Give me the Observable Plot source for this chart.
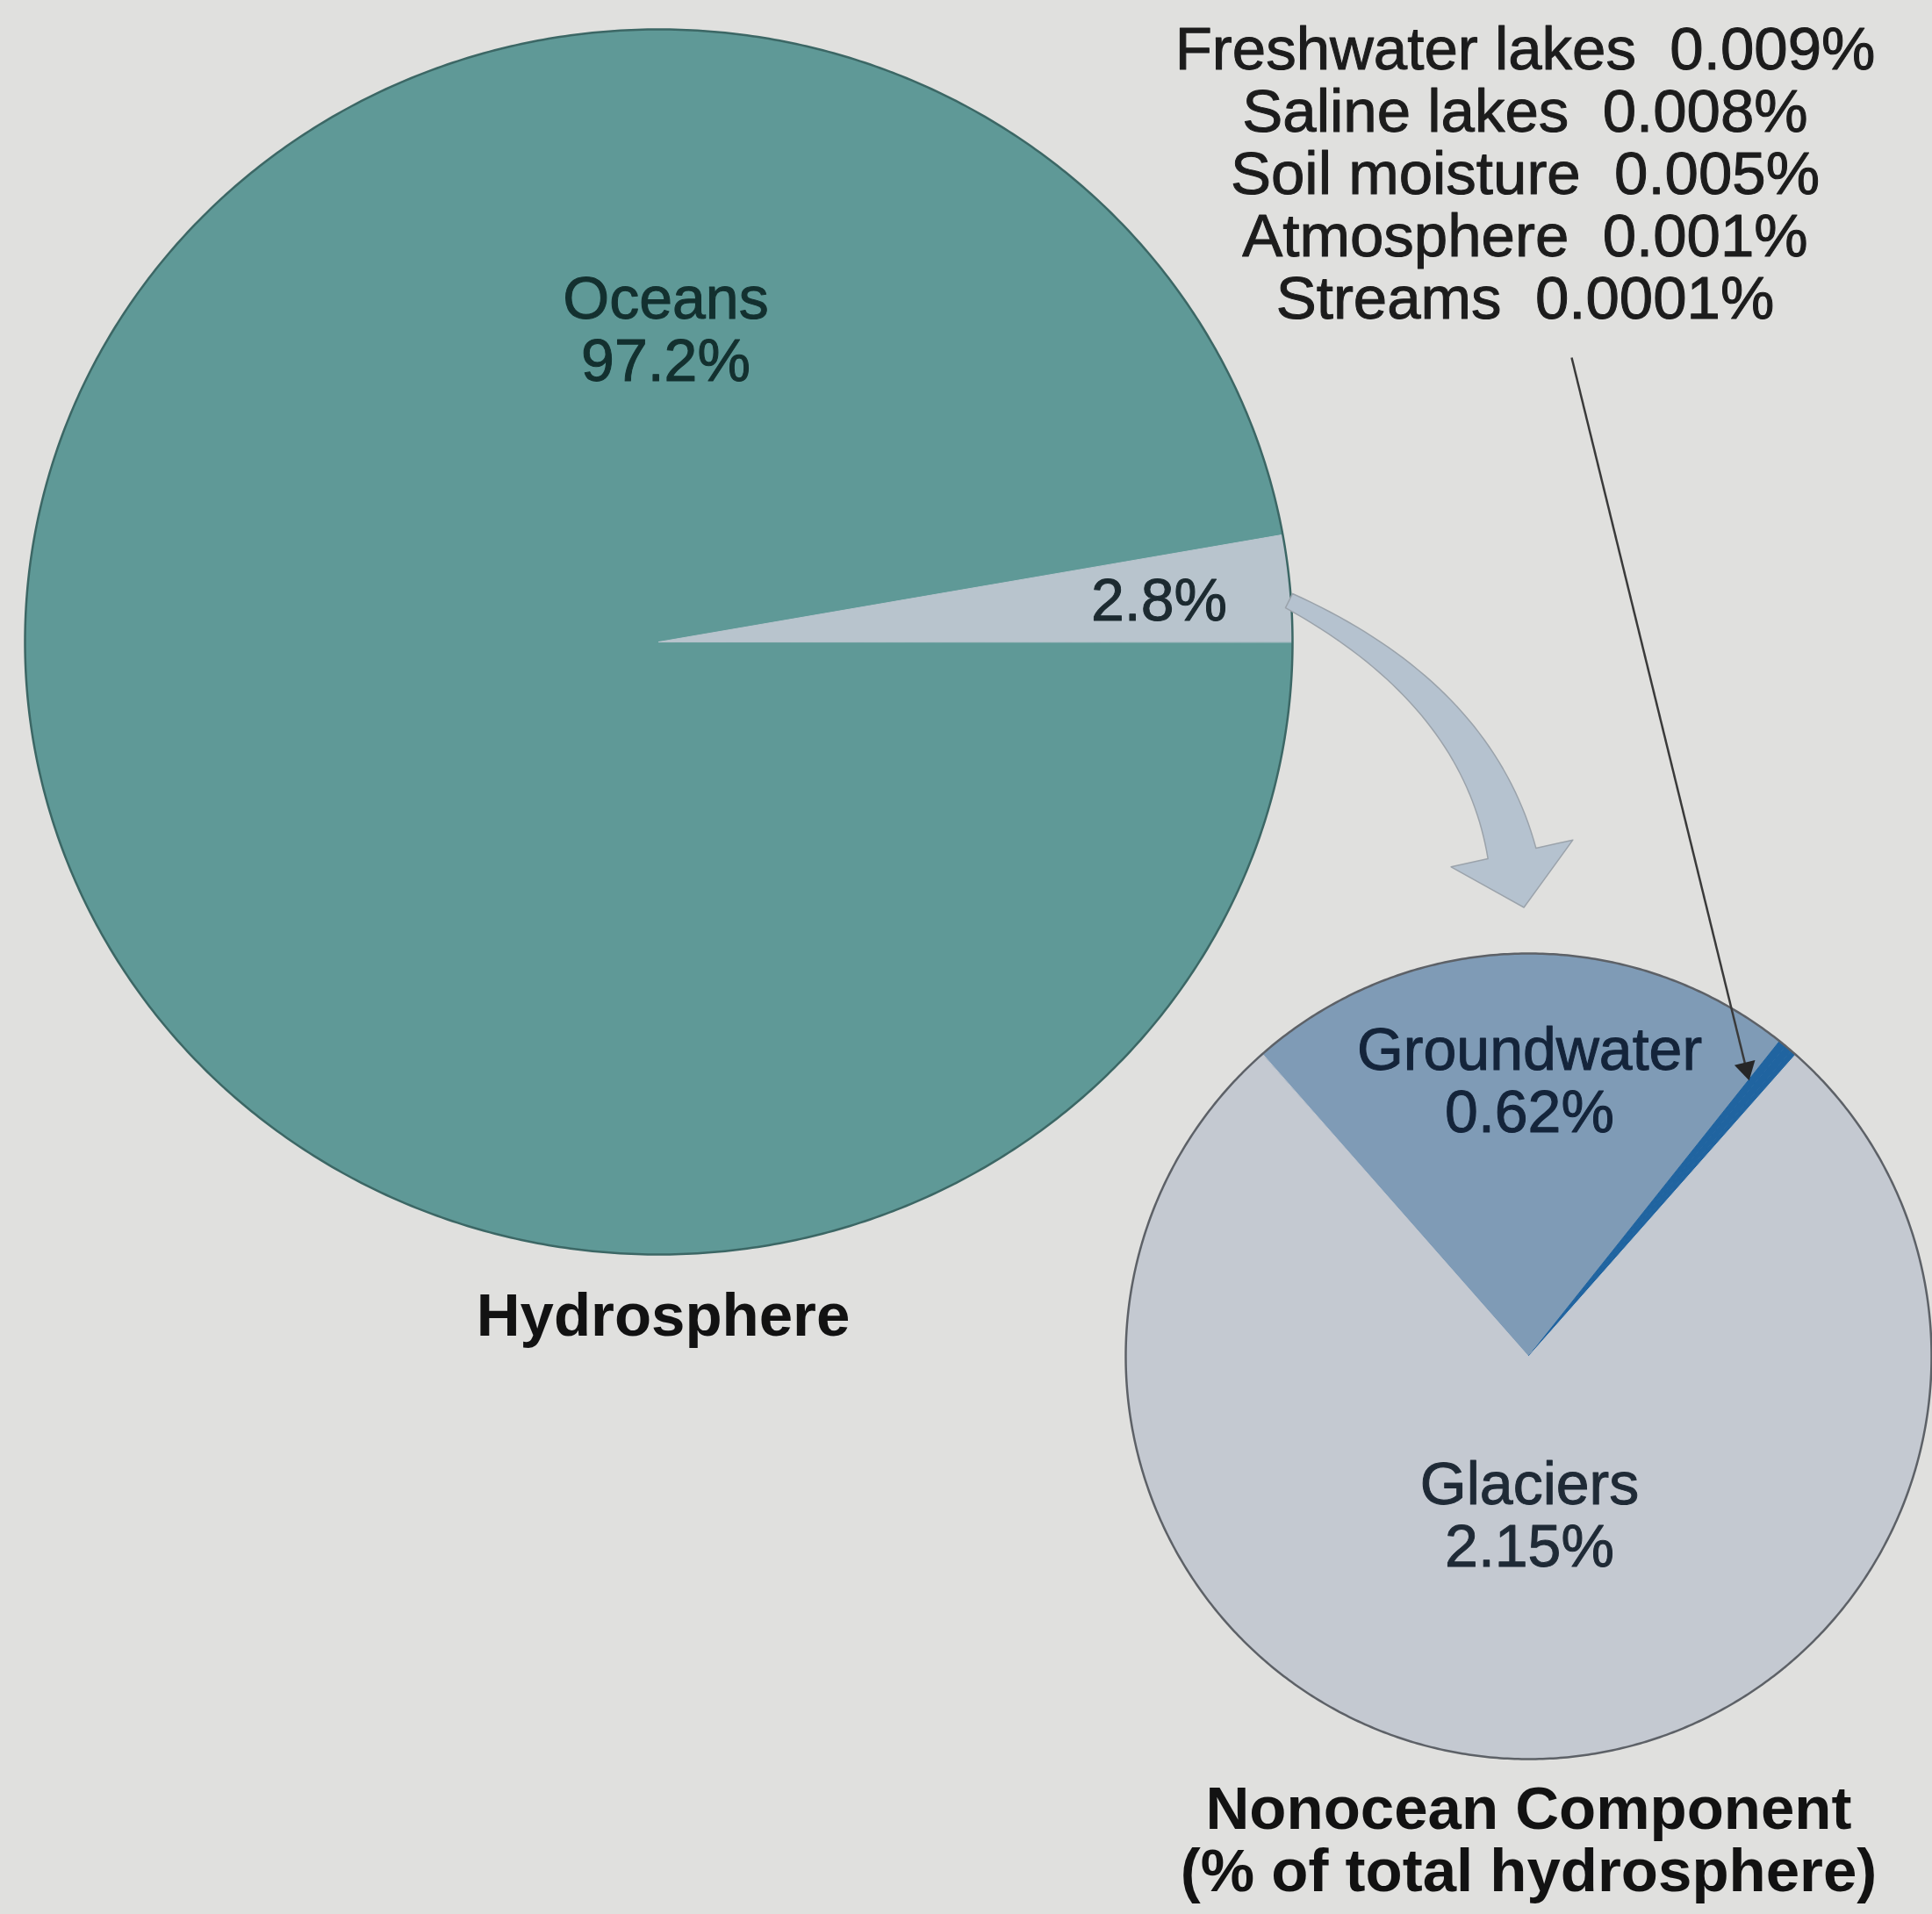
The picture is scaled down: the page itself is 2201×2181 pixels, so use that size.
<!DOCTYPE html>
<html>
<head>
<meta charset="utf-8">
<script src="https://cdn.jsdelivr.net/npm/d3@7"></script>
<script src="https://cdn.jsdelivr.net/npm/@observablehq/plot@0.6"></script>
<style>
  html, body { margin: 0; padding: 0; background: #e0e0de; }
  #chart svg { display: block; }
</style>
</head>
<body>
<div id="chart"></div>
<script>
// Distribution of Earth's water (% of the total hydrosphere)
const hydroNames = ["Oceans", "Nonocean"];
const hydroValues = [97.2, 2.8];

// Breakdown of the non-ocean part, still as % of the whole hydrosphere
const nonoceanNames = ["Groundwater", "Freshwater lakes", "Saline lakes", "Soil moisture", "Atmosphere", "Streams", "Glaciers"];
const nonoceanValues = [0.62, 0.009, 0.008, 0.005, 0.001, 0.0001, 2.15];

// Reservoirs too small to label inside the pie; listed in the callout
const minorNames = ["Freshwater lakes", "Saline lakes", "Soil moisture", "Atmosphere", "Streams"];

// Slice colours
const sliceColors = {
  "Oceans": "#5f9997",
  "Nonocean": "#b8c4cd",
  "Groundwater": "#7f9bb6",
  "Freshwater lakes": "#2064a0",
  "Saline lakes": "#2064a0",
  "Soil moisture": "#2064a0",
  "Atmosphere": "#2064a0",
  "Streams": "#2064a0",
  "Glaciers": "#c4c9d1"
};

// ---- layout (canvas units = pixels) ----
const W = 2201, H = 2181;
const bigPie = {cx: 750, cy: 731, rx: 722, ry: 698};
const smallPie = {cx: 1741, cy: 1545, rx: 459, ry: 459};
const smallStart = -41.4 * Math.PI / 180;   // groundwater straddles 12 o'clock
const FONT = "'Liberation Sans', Arial, Helvetica, sans-serif";

const val = (names, values) => n => values[names.indexOf(n)];
const hydro = val(hydroNames, hydroValues);
const nonocean = val(nonoceanNames, nonoceanValues);

// Polygon points for each pie slice (angles clockwise from 12 o'clock)
function slicePoints(names, values, g, start) {
  const arcs = d3.pie().sort(null).startAngle(start).endAngle(start + 2 * Math.PI)(values);
  const pts = [];
  arcs.forEach((a, i) => {
    const key = names[i];
    pts.push({key, x: g.cx, y: g.cy});
    const n = Math.max(2, Math.ceil((a.endAngle - a.startAngle) / (Math.PI / 360)));
    for (let k = 0; k <= n; k++) {
      const t = a.startAngle + (a.endAngle - a.startAngle) * k / n;
      pts.push({key, x: g.cx + g.rx * Math.sin(t), y: g.cy - g.ry * Math.cos(t)});
    }
  });
  return pts;
}
function rimPoints(g) {
  return d3.range(0, 720).map(k => {
    const t = k / 720 * 2 * Math.PI;
    return {x: g.cx + g.rx * Math.sin(t), y: g.cy - g.ry * Math.cos(t)};
  });
}

// Oceans starts at 3 o'clock, so the non-ocean wedge closes on the horizontal radius
const bigSlices = slicePoints(hydroNames, hydroValues, bigPie, Math.PI / 2);
const smallSlices = slicePoints(nonoceanNames, nonoceanValues, smallPie, smallStart);

// Curved block arrow linking the 2.8% wedge to the breakdown pie
const arrowCurve = {p0: [1468, 684], p1: [1682, 791], p2: [1722, 972], w0: 9, w1: 28, head: 71, headLen: 63};
function arrowPoints(a) {
  const bez = t => [0, 1].map(j => (1 - t) ** 2 * a.p0[j] + 2 * (1 - t) * t * a.p1[j] + t * t * a.p2[j]);
  const tan = t => {
    const d = [0, 1].map(j => 2 * (1 - t) * (a.p1[j] - a.p0[j]) + 2 * t * (a.p2[j] - a.p1[j]));
    const l = Math.hypot(d[0], d[1]);
    return [d[0] / l, d[1] / l];
  };
  const ts = d3.range(0, 41).map(k => k / 40);
  const left = [], right = [];
  ts.forEach(t => {
    const p = bez(t), d = tan(t), w = a.w0 + (a.w1 - a.w0) * t;
    const nrm = [-d[1], d[0]];
    left.push({x: p[0] + nrm[0] * w, y: p[1] + nrm[1] * w});
    right.push({x: p[0] - nrm[0] * w, y: p[1] - nrm[1] * w});
  });
  const pe = bez(1), de = tan(1), ne = [-de[1], de[0]];
  const head = [
    {x: pe[0] + ne[0] * a.head, y: pe[1] + ne[1] * a.head},
    {x: pe[0] + de[0] * a.headLen, y: pe[1] + de[1] * a.headLen},
    {x: pe[0] - ne[0] * a.head, y: pe[1] - ne[1] * a.head}
  ];
  return [...left, ...head, ...right.reverse()];
}

// Leader from the callout list to the thin dark slice, ending in a solid tip
const leader = [{x1: 1790, y1: 407, x2: 1991, y2: 1226}];
const leaderTip = leader.map(d => ({
  x: d.x2 - 9 * (d.x2 - d.x1) / Math.hypot(d.x2 - d.x1, d.y2 - d.y1),
  y: d.y2 - 9 * (d.y2 - d.y1) / Math.hypot(d.x2 - d.x1, d.y2 - d.y1),
  angle: 180 - Math.atan2(d.x2 - d.x1, d.y2 - d.y1) * 180 / Math.PI
}));

const fmt = v => `${v}%`;

// Text labels
const pieLabels = [
  {text: `Oceans\n${fmt(hydro("Oceans"))}`, x: 758, y: 375, fill: "#13302f"},
  {text: fmt(hydro("Nonocean")), x: 1320, y: 684, fill: "#1c2a30"},
  {text: `Groundwater\n${fmt(nonocean("Groundwater"))}`, x: 1742, y: 1231, fill: "#14243a"},
  {text: `Glaciers\n${fmt(nonocean("Glaciers"))}`, x: 1742, y: 1726, fill: "#1f2a36"}
];
const titles = [
  {text: "Hydrosphere", x: 755, y: 1499},
  {text: "Nonocean Component\n(% of total hydrosphere)", x: 1741, y: 2096}
];
const calloutLines = minorNames.map((n, i) => ({
  text: `${n}\u00a0\u00a0${fmt(nonocean(n))}`, x: 1737, y: 56 + i * 71
}));

const chart = Plot.plot({
  width: W,
  height: H,
  margin: 0,
  style: {background: "#e0e0de", fontFamily: FONT},
  x: {domain: [0, W], range: [0, W], axis: null},
  y: {domain: [0, H], range: [0, H], axis: null},
  color: {domain: Object.keys(sliceColors), range: Object.values(sliceColors)},
  marks: [
    // main pie
    Plot.line(bigSlices, {x: "x", y: "y", z: "key", fill: "key", stroke: "key", strokeWidth: 1, curve: "linear-closed"}),
    Plot.line(rimPoints(bigPie), {x: "x", y: "y", stroke: "#3c6765", strokeWidth: 2.5, curve: "linear-closed"}),
    // breakdown pie
    Plot.line(smallSlices, {x: "x", y: "y", z: "key", fill: "key", stroke: "key", strokeWidth: 1, curve: "linear-closed"}),
    Plot.line(rimPoints(smallPie), {x: "x", y: "y", stroke: "#5d6167", strokeWidth: 2.5, curve: "linear-closed"}),
    // connecting arrow
    Plot.line(arrowPoints(arrowCurve), {x: "x", y: "y", fill: "#b5c2cf", stroke: "#9ba3ab", strokeWidth: 1.5, curve: "linear-closed"}),
    // leader line with a filled triangular tip
    Plot.link(leader, {x1: "x1", y1: "y1", x2: "x2", y2: "y2", stroke: "#3a3a3a", strokeWidth: 2.5}),
    Plot.dot(leaderTip, {x: "x", y: "y", symbol: "triangle", r: 9, fill: "#262626", stroke: "none", rotate: "angle"}),
    // labels
    Plot.text(pieLabels, {x: "x", y: "y", text: "text", fill: "fill", stroke: "fill", strokeWidth: 1, fontSize: 68, lineHeight: 1.05, fontFamily: FONT}),
    Plot.text(calloutLines, {x: "x", y: "y", text: "text", fill: "#1c1c1c", stroke: "#1c1c1c", strokeWidth: 1, fontSize: 69, fontFamily: FONT}),
    Plot.text(titles, {x: "x", y: "y", text: "text", fill: "#121212", fontSize: 69, fontWeight: "bold", lineHeight: 1.03, fontFamily: FONT})
  ]
});

document.getElementById("chart").appendChild(chart);
</script>
</body>
</html>
